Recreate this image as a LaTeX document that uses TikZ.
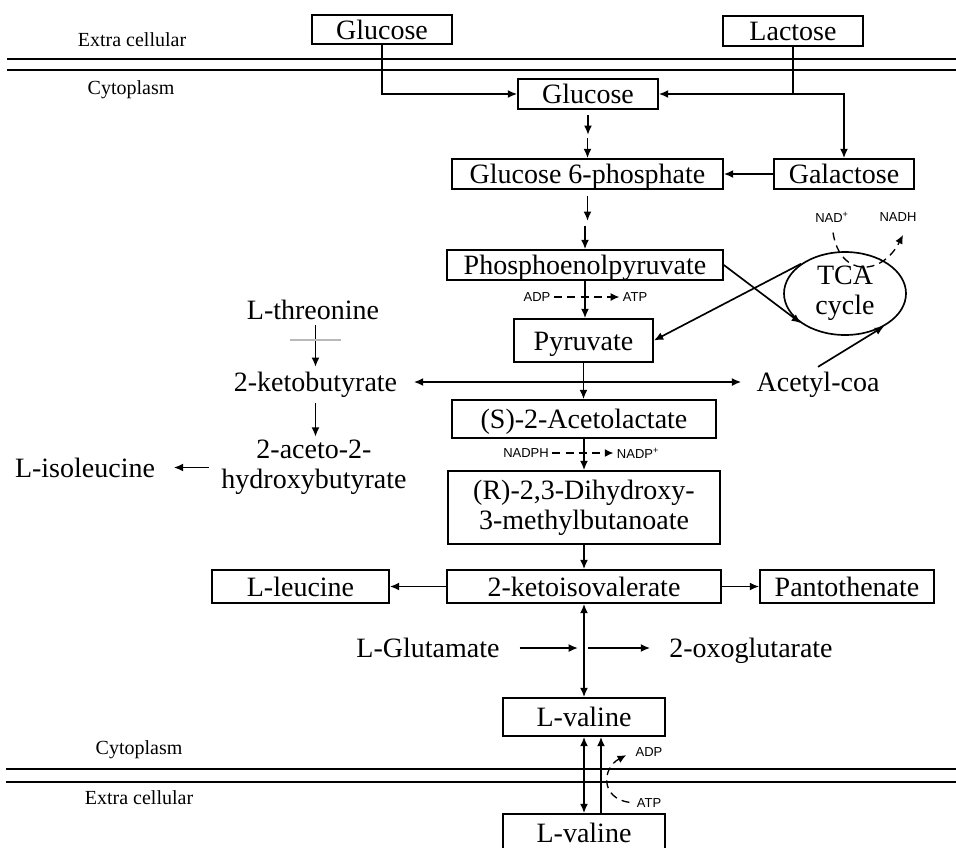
\documentclass[tikz,border=0pt]{standalone}
\usepackage{fontspec}
\setmainfont{Liberation Serif}
\newfontfamily\lblsans{Liberation Sans}
\usetikzlibrary{arrows.meta,shapes.geometric,calc}
\newcommand{\mf}{\fontsize{21}{22.5}\selectfont}
\newcommand{\lblf}{\lblsans\fontsize{9.75}{11}\selectfont}
\newcommand{\regf}{\fontsize{15}{17}\selectfont}
\begin{document}
\begin{tikzpicture}[x=0.75pt,y=-0.75pt, line width=1.25pt,
  box/.style={draw, font=\mf, inner sep=2pt, minimum height=22.5pt, text height=16pt, text depth=1.5pt},
  txt/.style={font=\mf, align=center, inner sep=2pt, text height=16pt, text depth=1.5pt},
  natural/.style={text height=, text depth=},
  lbl/.style={font=\lblf, inner sep=2pt},
  region/.style={font=\regf},
  arr/.style={-{Latex[length=7pt,width=6pt]}},
  arrb/.style={{Latex[length=7pt,width=6pt]}-{Latex[length=7pt,width=6pt]}},
  darr/.style={dash pattern=on 6pt off 4pt, line width=1pt, -{Latex[length=6.5pt,width=6pt]}},
  membrane/.style={line width=1pt}]
\useasboundingbox (0,0) rectangle (956,847);
\clip (0,0) rectangle (956,847);

% region labels and membranes
\node[region] (ec1) at (132,40) {Extra cellular};
\node[region] (cy1) at (131,90) {Cytoplasm};
\node[region] (cy2) at (139,750) {Cytoplasm};
\node[region] (ec2) at (139,798) {Extra cellular};
\draw[membrane] (7,59) -- (956,59);
\draw[membrane] (7,70) -- (956,70);
\draw[membrane] (6,769) -- (956,769);
\draw[membrane] (6,782) -- (956,782);

% boxes
\node[box, minimum width=105pt, minimum height=21.75pt] (gluOut) at (382,29.5) {Glucose};
\node[box, minimum width=105pt] (lacOut) at (793,31) {Lactose};
\node[box, minimum width=105pt] (gluIn) at (588,94) {Glucose};
\node[box, minimum width=105pt] (gal) at (844,174) {Galactose};
\node[box, minimum width=203.25pt] (g6p) at (587.5,174) {Glucose 6-phosphate};
\node[box, minimum width=207pt] (pep) at (585,265) {Phosphoenolpyruvate};
\node[box, minimum width=104.25pt, minimum height=32.25pt] (pyr) at (583.5,340.5) {Pyruvate};
\node[box, minimum width=198pt, minimum height=28.5pt] (aceto) at (584,419) {(S)-2-Acetolactate};
\node[box, natural, minimum width=204pt, minimum height=54.75pt, align=center] (dihyd) at (584,507.5) {(R)-2,3-Dihydroxy-\\3-methylbutanoate};
\node[box, minimum width=205.5pt, minimum height=24.75pt] (keto) at (584,586.5) {2-ketoisovalerate};
\node[box, minimum width=132.75pt, minimum height=24.75pt] (leu) at (300.5,586.5) {L-leucine};
\node[box, minimum width=130.5pt, minimum height=24.75pt] (panto) at (847,586.5) {Pantothenate};
\node[box, minimum width=121.5pt, minimum height=28.5pt] (val) at (584,717) {L-valine};
\node[box, minimum width=121.5pt, minimum height=28.5pt] (valOut) at (584,833) {L-valine};

% plain text nodes
\node[txt] (thr) at (313,310) {L-threonine};
\node[txt] (kb) at (315.5,382) {2-ketobutyrate};
\node[txt, natural] (ahb) at (314,467.5) {2-aceto-2-\\hydroxybutyrate};
\node[txt] (ile) at (85,467.5) {L-isoleucine};
\node[txt] (acoa) at (818,382) {Acetyl-coa};
\node[txt] (glu) at (428,648) {L-Glutamate};
\node[txt] (oxo) at (751,648) {2-oxoglutarate};
\node[draw, ellipse, minimum width=91.5pt, minimum height=62.25pt, inner sep=0pt, font=\mf, align=center] (tca) at (845,293.5) {TCA\\cycle};

% small labels
\node[lbl] (adp1) at (537,297) {ADP};
\node[lbl] (atp1) at (635,297) {ATP};
\node[lbl] (nadph) at (526,453) {NADPH};
\node[lbl] (nadp) at (638,453) {NADP\textsuperscript{+}};
\node[lbl] (nad) at (832,217) {NAD\textsuperscript{+}};
\node[lbl] (nadh) at (898,217) {NADH};
\node[lbl] (adp2) at (649,752) {ADP};
\node[lbl] (atp2) at (649,803) {ATP};

% connectors
\draw[arr] (gluOut.south) |- (gluIn.west);
\draw[arr] (lacOut.south) |- (gluIn.east);
\draw[arr] (lacOut.south |- gluIn.east) -| (gal.north);
\draw[arr] (gal.west) -- (g6p.east);
\draw[arr] ($(gluIn.south)+(0,5)$) -- ($(gluIn.south)+(0,25)$);
\draw[arr] ($(g6p.north)+(0,-20)$) -- (g6p.north);
\draw[arr] ($(g6p.south)+(0,6)$) -- ($(g6p.south)+(0,31)$);
\draw[arr] ($(pep.north)+(0,-23)$) -- (pep.north);
\draw[arr] (pep.south) -- (pep.south |- pyr.north);
\draw[darr] (adp1.east) -- (atp1.west);
\draw[arr] (pep.east) -- (tca.214);
\draw[arr] (tca.146) -- (pyr.east);
\draw[arr] (acoa.north) -- (tca.320);
\draw[darr] ($(nad.south)+(1,7)$) .. controls (840,278) and (882,276) .. ($(nadh.south)+(5,10)$);
\draw[arr] (pyr.south) -- (pyr.south |- aceto.north);
\draw[arrb, shorten <=9.9pt, shorten >=8.9pt] (kb.east) -- (acoa.west);
\draw[arr] (kb.north |- thr.south) -- (kb.north);
\draw[gray!55, line width=0.9pt] (290,340) -- (341,340);
\draw[arr, shorten <=4pt] (kb.south) -- (kb.south |- ahb.north);
\draw[arr, shorten <=6.6pt, shorten >=11.5pt] (ahb.west) -- (ile.east);
\draw[arr] (aceto.south) -- (dihyd.north);
\draw[darr] (nadph.east) -- (nadp.west);
\draw[arr] (dihyd.south) -- (keto.north);
\draw[arr] (keto.west) -- (leu.east);
\draw[arr] (keto.east) -- (panto.west);
\draw[arrb] (keto.south) -- (val.north);
\coordinate (gj) at (578,648);
\coordinate (gk) at (588,648);
\draw[arr, shorten <=12.5pt] (glu.east) -- (gj);
\draw[arr, shorten >=11.8pt] (gk) -- (oxo.west);
\draw[arrb] (val.south) -- (valOut.north);
\draw[arr] ([xshift=12.75pt]valOut.north) -- ([xshift=12.75pt]val.south);
\draw[darr, shorten <=3pt, shorten >=5pt] (atp2.west) .. controls (600,798) and (602,768) .. (adp2.west);
\end{tikzpicture}
\end{document}
